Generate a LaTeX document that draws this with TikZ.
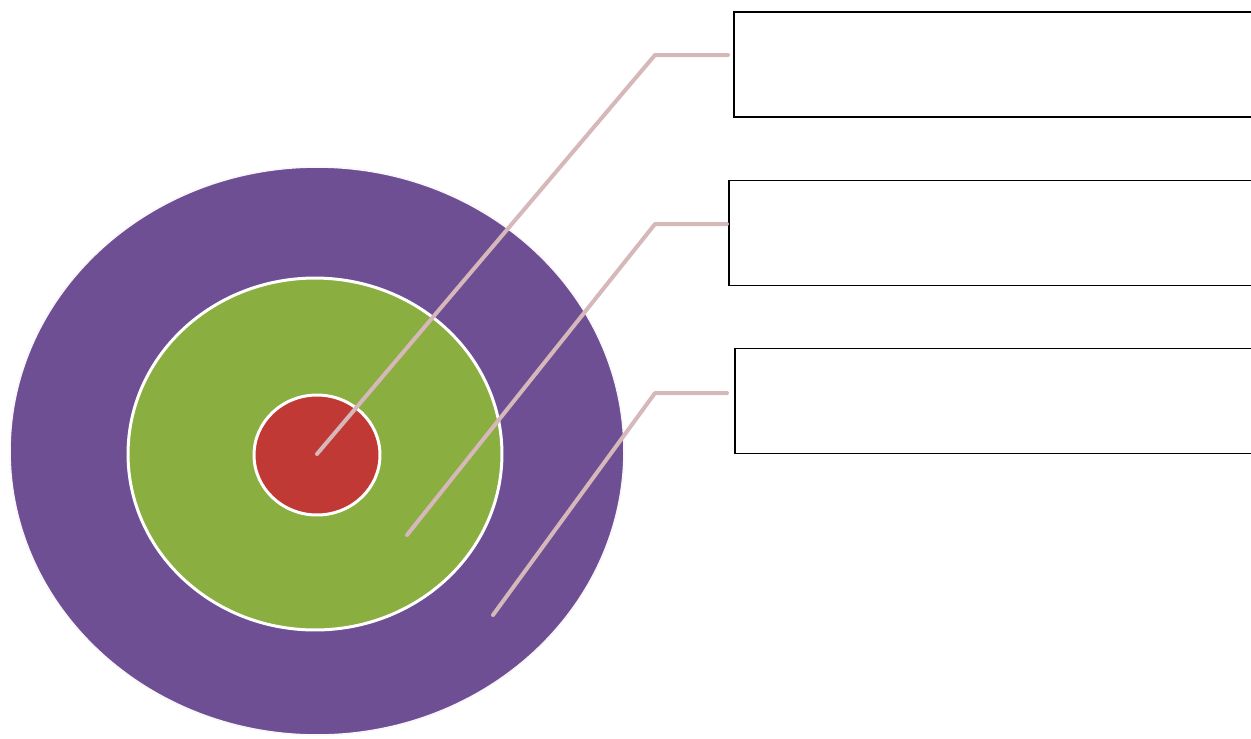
\documentclass[tikz,border=0pt]{standalone}
\usetikzlibrary{shapes.geometric}
\definecolor{ringpurple}{RGB}{110,79,148}
\definecolor{ringgreen}{RGB}{138,174,64}
\definecolor{ringred}{RGB}{192,57,52}
\definecolor{leader}{RGB}{214,184,186}
\tikzset{
  ring/.style={ellipse, draw=white, line width=0.06cm, inner sep=0pt},
  leadline/.style={draw=leader, line width=0.08cm, line cap=round, line join=round},
  labelbox/.style={rectangle, draw=black, line width=0.025cm, fill=white, inner sep=0pt, minimum width=11.4cm, minimum height=2.1cm}
}
\begin{document}
\begin{tikzpicture}[x=0.02cm,y=-0.02cm]
\useasboundingbox (0,0) rectangle (1251,738);
\clip (0,0) rectangle (1251,738);
\fill[white] (0,0) rectangle (1251,738);
% rings
\node[ring, draw=white!95!ringpurple, line width=0.03cm, fill=ringpurple, minimum width=12.28cm, minimum height=11.36cm] (outer) at (317,451) {};
\node[ring, fill=ringgreen, minimum width=7.48cm, minimum height=7.04cm] (middle) at (315,454) {};
\node[ring, fill=ringred, minimum width=2.52cm, minimum height=2.4cm] (inner) at (317,455) {};
% label boxes
\node[labelbox] (box1) at (1019,64.5) {};
\node[labelbox] (box2) at (1014,233) {};
\node[labelbox] (box3) at (1020,401) {};
% leader lines
\coordinate (p1) at (317,454);
\coordinate (k1) at (655,55);
\coordinate (e1) at (728,55);
\coordinate (p2) at (407,535);
\coordinate (k2) at (655,224);
\coordinate (e2) at (727,224);
\coordinate (p3) at (493,615);
\coordinate (k3) at (655,393);
\coordinate (e3) at (727,393);
\draw[leadline] (p1) -- (k1) -- (e1);
\draw[leadline] (p2) -- (k2) -- (e2);
\draw[leadline] (p3) -- (k3) -- (e3);
\end{tikzpicture}
\end{document}
